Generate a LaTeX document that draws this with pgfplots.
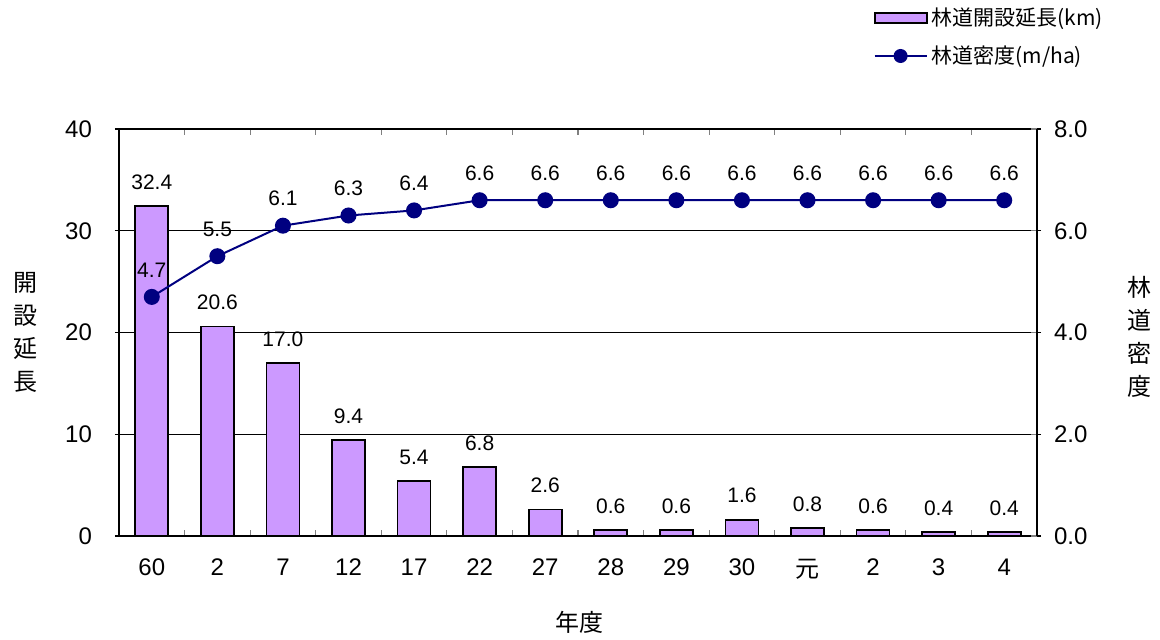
\documentclass[border=0pt]{standalone}
\usepackage{pgfplots}
\pgfplotsset{compat=1.18}
\usepackage{fontspec}
\setmainfont{Liberation Sans}
\newfontfamily\jp{Noto Sans CJK JP}
\definecolor{barfill}{HTML}{CC99FF}
\definecolor{navyline}{HTML}{000080}

\begin{document}
\begin{tikzpicture}
\useasboundingbox (0,0) rectangle (580pt,319.5pt);
\pgfplotsset{
  common/.style={
    at={(59.5pt,51.5pt)}, anchor=south west,
    scale only axis, width=459pt, height=203.5pt,
    xmin=-0.5, xmax=13.5, clip=false,
    /pgf/number format/assume math mode=true,
    tick label style={font=\fontsize{12}{14}\selectfont},
    axis line style={line width=1pt},
  }
}
\begin{axis}[
  common,
  ymin=0, ymax=40, ytick={0,10,20,30,40},
  xtick={0,...,13},
  xticklabels={60,2,7,12,17,22,27,28,29,30,{\jp 元},2,3,4},
  major x tick style={draw=none},
  minor xtick={0.5,1.5,...,12.5},
  minor x tick style={gray, line width=0.6pt},
  minor tick length=3pt,
  xtick align=inside,
  ytick align=outside,
  major tick length=2pt,
  ytick style={black, line width=0.6pt},
  xticklabel style={yshift=-8pt},
  yticklabel style={xshift=-8pt},
  ymajorgrids, grid style={black, line width=0.5pt},
]
\addplot[ybar, bar width=16.5pt, fill=barfill, draw=black, line width=0.9pt,
  nodes near coords, point meta=explicit symbolic,
  nodes near coords style={font=\fontsize{10.5}{11}\selectfont, anchor=center, yshift=12pt}]
  coordinates {
  (0,32.4) [32.4] (1,20.6) [20.6] (2,17.0) [17.0] (3,9.4) [9.4]
  (4,5.4) [5.4] (5,6.8) [6.8] (6,2.6) [2.6] (7,0.6) [0.6]
  (8,0.6) [0.6] (9,1.6) [1.6] (10,0.8) [0.8] (11,0.6) [0.6]
  (12,0.4) [0.4] (13,0.4) [0.4]};
\node[align=center, font=\jp\fontsize{12}{16.5}\selectfont] at (rel axis cs:-0.102,0.5) {開\\設\\延\\長};
\node[align=center, font=\jp\fontsize{12}{16.5}\selectfont] at (rel axis cs:1.112,0.489) {林\\道\\密\\度};
\node[font=\jp\fontsize{12}{14}\selectfont] at (rel axis cs:0.502,-0.211) {年度};
\end{axis}
\begin{axis}[
  common,
  ymin=0, ymax=8, ytick={0,2,4,6,8},
  axis y line*=right, axis x line=none,
  ytick align=inside, major tick length=3pt,
  ytick style={gray, line width=0.6pt},
  yticklabel style={/pgf/number format/fixed, /pgf/number format/precision=1,
    /pgf/number format/fixed zerofill, xshift=5pt},
  legend style={at={(rel axis cs:0.815,1.318)}, anchor=north west, draw=none,
    fill=none, font=\jp\fontsize{10.5}{11}\selectfont, row sep=4.5pt,
    legend cell align=left},
]
\addlegendimage{legend image code/.code={
  \draw[fill=barfill, draw=black, line width=1pt] (0pt,-2.5pt) rectangle (26pt,2.5pt);}}
\addlegendentry{林道開設延長(km)}
\addplot[navyline, line width=1pt, mark=*, mark size=3.5pt,
  mark options={fill=navyline},
  legend image code/.code={
    \draw[navyline, line width=1pt] (0pt,0pt) -- (26pt,0pt);
    \fill[navyline] (13pt,0pt) circle (3pt);},
  nodes near coords, point meta=explicit symbolic,
  nodes near coords style={font=\fontsize{10.5}{11}\selectfont, anchor=center, yshift=13.5pt, text=black}]
  coordinates {
  (0,4.7) [4.7] (1,5.5) [5.5] (2,6.1) [6.1] (3,6.3) [6.3]
  (4,6.4) [6.4] (5,6.6) [6.6] (6,6.6) [6.6] (7,6.6) [6.6]
  (8,6.6) [6.6] (9,6.6) [6.6] (10,6.6) [6.6] (11,6.6) [6.6]
  (12,6.6) [6.6] (13,6.6) [6.6]};
\addlegendentry{林道密度(m/ha)}
\end{axis}
\end{tikzpicture}
\end{document}
